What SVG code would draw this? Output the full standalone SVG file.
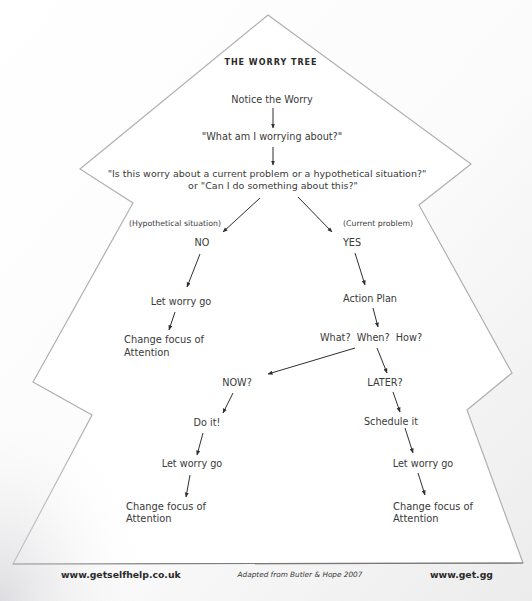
<svg xmlns="http://www.w3.org/2000/svg" width="532" height="601" viewBox="0 0 532 601">
  <defs>
    <marker id="ah" viewBox="0 0 10 10" refX="9" refY="5" markerWidth="5" markerHeight="5" orient="auto" markerUnits="userSpaceOnUse">
      <path d="M0,1 L10,5 L0,9 z" fill="#2f2f2f"/>
    </marker>
    <linearGradient id="paper" x1="0" y1="0" x2="1" y2="1">
      <stop offset="0" stop-color="#ffffff"/>
      <stop offset="0.55" stop-color="#fbfbfb"/>
      <stop offset="1" stop-color="#ececec"/>
    </linearGradient>
    <radialGradient id="cornerShade" cx="0" cy="1" r="0.6">
      <stop offset="0" stop-color="#c9c9cf" stop-opacity="0.6"/>
      <stop offset="1" stop-color="#ffffff" stop-opacity="0"/>
    </radialGradient>
    <style>
      text { font-family: "DejaVu Sans", Verdana, sans-serif; fill: #3a3a3a; }
      .t { font-size: 9.7px; text-anchor: middle; }
      .tl { font-size: 9.9px; }
      .q { font-size: 9.5px; text-anchor: middle; }
      .s { font-size: 7.8px; }
      .title { font-size: 8px; font-weight: bold; letter-spacing: 1px; text-anchor: middle; fill: #2a2a2a; }
      .foot { font-size: 9.3px; font-weight: bold; fill: #2a2a2a; }
      .cite { font-size: 7.3px; font-style: italic; text-anchor: middle; }
      .edge { stroke: #2f2f2f; stroke-width: 1; fill: none; marker-end: url(#ah); }
      .outline { fill: #ffffff; stroke: #b0b0b0; stroke-width: 1.2; stroke-linejoin: miter; }
    </style>
  </defs>

  <!-- page -->
  <rect x="0" y="0" width="532" height="601" fill="url(#paper)"/>

  <!-- tree outline -->
  <path class="outline" d="M268,15 L471,164 L419,205 L512,373 L467,410 L523,563 L13,564 L92,415 L33,382 L133,203 L80,169 Z"/>
  <line x1="13" y1="564" x2="523" y2="563" stroke="#7a7a7a" stroke-width="1.2"/>

  <!-- soft shadow across the lower-left corner -->
  <rect x="0" y="250" width="260" height="351" fill="url(#cornerShade)"/>

  <text class="title" x="271" y="65">THE WORRY TREE</text>

  <g id="notice"><text class="t" x="272" y="103">Notice the Worry</text></g>
  <g id="what-worry"><text class="t" x="272" y="140">"What am I worrying about?"</text></g>
  <g id="question">
    <text class="q" x="267" y="177">"Is this worry about a current problem or a hypothetical situation?"</text>
    <text class="q" x="273" y="189">or "Can I do something about this?"</text>
  </g>

  <g id="no">
    <text class="s" x="129" y="226">(Hypothetical situation)</text>
    <text class="t" x="202" y="246">NO</text>
  </g>
  <g id="yes">
    <text class="s" x="343" y="226">(Current problem)</text>
    <text class="t" x="352" y="246">YES</text>
  </g>

  <g id="let-go-1"><text class="t" x="181" y="305">Let worry go</text></g>
  <g id="change-1">
    <text class="tl" x="124" y="343">Change focus of</text>
    <text class="tl" x="124" y="356">Attention</text>
  </g>

  <g id="action-plan"><text class="t" x="370" y="302">Action Plan</text></g>
  <g id="what-when-how"><text class="t" x="371" y="341" xml:space="preserve">What?  When?  How?</text></g>

  <g id="now"><text class="t" x="237" y="386">NOW?</text></g>
  <g id="later"><text class="t" x="385" y="386">LATER?</text></g>

  <g id="do-it"><text class="t" x="207" y="426">Do it!</text></g>
  <g id="schedule"><text class="t" x="391" y="425">Schedule it</text></g>

  <g id="let-go-2"><text class="t" x="192" y="467">Let worry go</text></g>
  <g id="let-go-3"><text class="t" x="423" y="467">Let worry go</text></g>

  <g id="change-2">
    <text class="tl" x="126" y="510">Change focus of</text>
    <text class="tl" x="126" y="522">Attention</text>
  </g>
  <g id="change-3">
    <text class="tl" x="393" y="510">Change focus of</text>
    <text class="tl" x="393" y="522">Attention</text>
  </g>

  <!-- connectors -->
  <g id="connectors">
    <line class="edge" x1="273" y1="108" x2="273" y2="128"/>
    <line class="edge" x1="273" y1="147" x2="273" y2="165"/>
    <line class="edge" x1="260" y1="198" x2="223" y2="232"/>
    <line class="edge" x1="298" y1="197" x2="332" y2="232"/>
    <line class="edge" x1="200" y1="254" x2="187" y2="287"/>
    <line class="edge" x1="355" y1="253" x2="365" y2="285"/>
    <line class="edge" x1="175" y1="312" x2="169" y2="330"/>
    <line class="edge" x1="373" y1="308" x2="378" y2="327"/>
    <line class="edge" x1="355" y1="348" x2="268" y2="374"/>
    <line class="edge" x1="377" y1="348" x2="387" y2="373"/>
    <line class="edge" x1="233" y1="393" x2="223" y2="413"/>
    <line class="edge" x1="393" y1="392" x2="400" y2="412"/>
    <line class="edge" x1="203" y1="433" x2="197" y2="455"/>
    <line class="edge" x1="405" y1="428" x2="413" y2="453"/>
    <line class="edge" x1="190" y1="475" x2="186" y2="497"/>
    <line class="edge" x1="418" y1="473" x2="425" y2="495"/>
  </g>

  <!-- footer -->
  <text class="foot" x="61" y="578">www.getselfhelp.co.uk</text>
  <text class="cite" x="300" y="577">Adapted from Butler &amp; Hope 2007</text>
  <text class="foot" x="430" y="578">www.get.gg</text>
</svg>
